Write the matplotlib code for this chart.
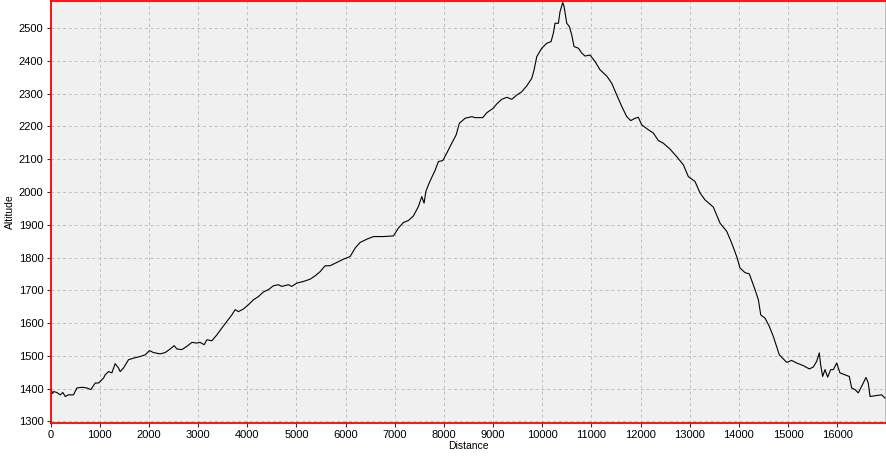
import matplotlib
matplotlib.use('Agg')
import matplotlib.pyplot as plt

# elevation profile
distance = [0, 15, 40, 68, 130, 197, 252, 300, 366, 468, 537, 638, 740, 821, 909, 977,
            1078, 1112, 1180, 1248, 1315, 1383, 1417, 1485, 1586, 1688, 1824, 1925,
            2013, 2094, 2230, 2332, 2434, 2515, 2570, 2671, 2773, 2875, 2976, 3043,
            3125, 3180, 3281, 3383, 3485, 3586, 3688, 3755, 3822, 3924, 4025, 4127,
            4229, 4330, 4432, 4534, 4635, 4704, 4839, 4907, 5009, 5144, 5280, 5381,
            5483, 5585, 5686, 5822, 5957, 6093, 6195, 6296, 6432, 6567, 6770, 6973,
            7075, 7177, 7278, 7380, 7482, 7550, 7597, 7632, 7685, 7754, 7821, 7888,
            7977, 8059, 8160, 8248, 8315, 8431, 8567, 8634, 8790, 8872, 9006, 9075,
            9177, 9278, 9380, 9482, 9583, 9685, 9787, 9834, 9888, 9990, 10092, 10179,
            10226, 10260, 10328, 10362, 10417, 10444, 10498, 10551, 10600, 10646,
            10734, 10803, 10870, 10972, 11074, 11175, 11311, 11413, 11515, 11617,
            11718, 11799, 11887, 11954, 12022, 12157, 12259, 12361, 12462, 12598,
            12734, 12869, 12971, 13107, 13209, 13310, 13479, 13615, 13751, 13853,
            13954, 14022, 14123, 14211, 14327, 14395, 14443, 14530, 14617, 14699,
            14821, 14971, 15072, 15174, 15309, 15431, 15512, 15580, 15634, 15661,
            15702, 15750, 15804, 15865, 15919, 15987, 16054, 16156, 16243, 16292,
            16359, 16427, 16495, 16583, 16630, 16665, 16766, 16902, 16970]
altitude = [1368, 1398, 1385, 1391, 1388, 1381, 1388, 1376, 1381, 1381, 1402, 1404,
            1402, 1397, 1417, 1417, 1432, 1442, 1452, 1448, 1476, 1463, 1452, 1463,
            1488, 1493, 1498, 1503, 1516, 1510, 1506, 1510, 1521, 1531, 1521, 1519,
            1529, 1541, 1539, 1541, 1534, 1549, 1546, 1564, 1585, 1605, 1625, 1641,
            1635, 1643, 1656, 1671, 1681, 1695, 1702, 1714, 1717, 1712, 1717, 1712,
            1722, 1727, 1734, 1744, 1757, 1775, 1775, 1785, 1795, 1803, 1829, 1846,
            1856, 1864, 1864, 1866, 1890, 1907, 1913, 1927, 1956, 1986, 1966, 2001,
            2022, 2045, 2066, 2093, 2096, 2119, 2149, 2174, 2210, 2225, 2230, 2227,
            2227, 2242, 2256, 2269, 2283, 2289, 2283, 2296, 2306, 2324, 2347, 2373,
            2413, 2439, 2454, 2459, 2485, 2515, 2515, 2551, 2578, 2566, 2515, 2505,
            2479, 2444, 2439, 2424, 2415, 2418, 2398, 2373, 2354, 2332, 2296, 2261,
            2230, 2218, 2225, 2228, 2205, 2190, 2180, 2157, 2149, 2131, 2108, 2083,
            2047, 2032, 1997, 1976, 1954, 1905, 1880, 1844, 1803, 1768, 1754, 1750,
            1702, 1671, 1625, 1615, 1590, 1559, 1503, 1480, 1486, 1478, 1470, 1460,
            1466, 1483, 1509, 1473, 1437, 1458, 1435, 1458, 1458, 1478, 1448, 1442,
            1437, 1402, 1397, 1387, 1407, 1434, 1417, 1376, 1378, 1381, 1371]

x_ticks = list(range(0, 17000, 1000))
y_ticks = list(range(1300, 2600, 100))

plt.rcParams['font.family'] = ['Liberation Sans', 'DejaVu Sans']

fig = plt.figure(figsize=(8.86, 4.58), dpi=100)
ax = fig.add_axes([50.5 / 886, 35 / 458, 835 / 886, 422 / 458])
ax.set_facecolor('#f0f0f0')

ax.plot(distance, altitude, color='black', linewidth=0.8)

ax.set_xlim(0, 16980)
ax.set_ylim(1295, 2583)
ax.set_xticks(x_ticks)
ax.set_yticks(y_ticks)
ax.tick_params(axis='both', labelsize=8, length=3, width=0.8, color='#333333', pad=2)

ax.grid(True, color='#bdbdbd', linestyle=(0, (3, 3)), linewidth=0.7)
ax.set_axisbelow(True)

for side in ['left', 'top', 'bottom']:
    ax.spines[side].set_color('#ff0000')
    ax.spines[side].set_linewidth(1.3)
ax.spines['right'].set_color('black')
ax.spines['right'].set_linewidth(1.0)

ax.set_xlabel('Distance', fontsize=7.5, labelpad=1)
ax.set_ylabel('Altitude', fontsize=7.5, labelpad=3)

fig.savefig('out.png', dpi=100)
